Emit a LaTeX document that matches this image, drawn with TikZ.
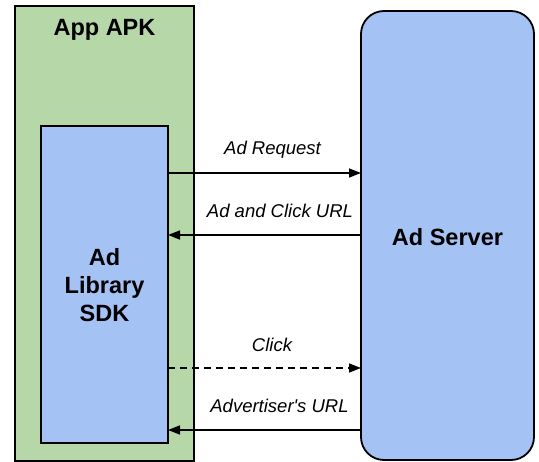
\documentclass[tikz,border=0pt]{standalone}
\usepackage{fontspec}
\setmainfont{Liberation Sans}
\usetikzlibrary{arrows.meta}
\definecolor{apkgreen}{HTML}{B6D7A8}
\definecolor{sdkblue}{HTML}{A4C2F4}
\begin{document}
\begin{tikzpicture}[x=1pt,y=-1pt,
  boxline/.style={draw=black,line width=1.8pt},
  bigtext/.style={font=\fontsize{23.5}{28}\selectfont\bfseries,align=center},
  msgtext/.style={font=\fontsize{18.5}{22}\selectfont\itshape},
  msg/.style={line width=1.5pt,-{Triangle[length=12pt,width=9pt]}}]
\useasboundingbox (0,0) rectangle (539,462);
\draw[boxline,fill=apkgreen] (15,6) rectangle (194,461);
\node[bigtext] (apk) at (104.5,30) {App APK};
\draw[boxline,fill=sdkblue] (41,126) rectangle (168,443);
\node[bigtext] (sdk) at (104.5,285) {Ad\\Library\\SDK};
\draw[boxline,fill=sdkblue,rounded corners=23pt] (361,11) rectangle (534,460);
\node[bigtext] (srv) at (447.5,237) {Ad Server};
\coordinate (l1) at (168,173); \coordinate (r1) at (361,173);
\coordinate (l2) at (168,235); \coordinate (r2) at (361,235);
\coordinate (l3) at (168,368); \coordinate (r3) at (361,368);
\coordinate (l4) at (168,430); \coordinate (r4) at (361,430);
\draw[msg] (l1) -- (r1);
\draw[msg] (r2) -- (l2);
\draw[msg,dashed,dash pattern=on 7pt off 5pt] (l3) -- (r3);
\draw[msg] (r4) -- (l4);
\node[msgtext] (t1) at (272.5,150) {Ad Request};
\node[msgtext] (t2) at (280,211) {Ad and Click URL};
\node[msgtext] (t3) at (272,345) {Click};
\node[msgtext] (t4) at (279.5,406) {Advertiser\textquotesingle s URL};
\end{tikzpicture}
\end{document}
